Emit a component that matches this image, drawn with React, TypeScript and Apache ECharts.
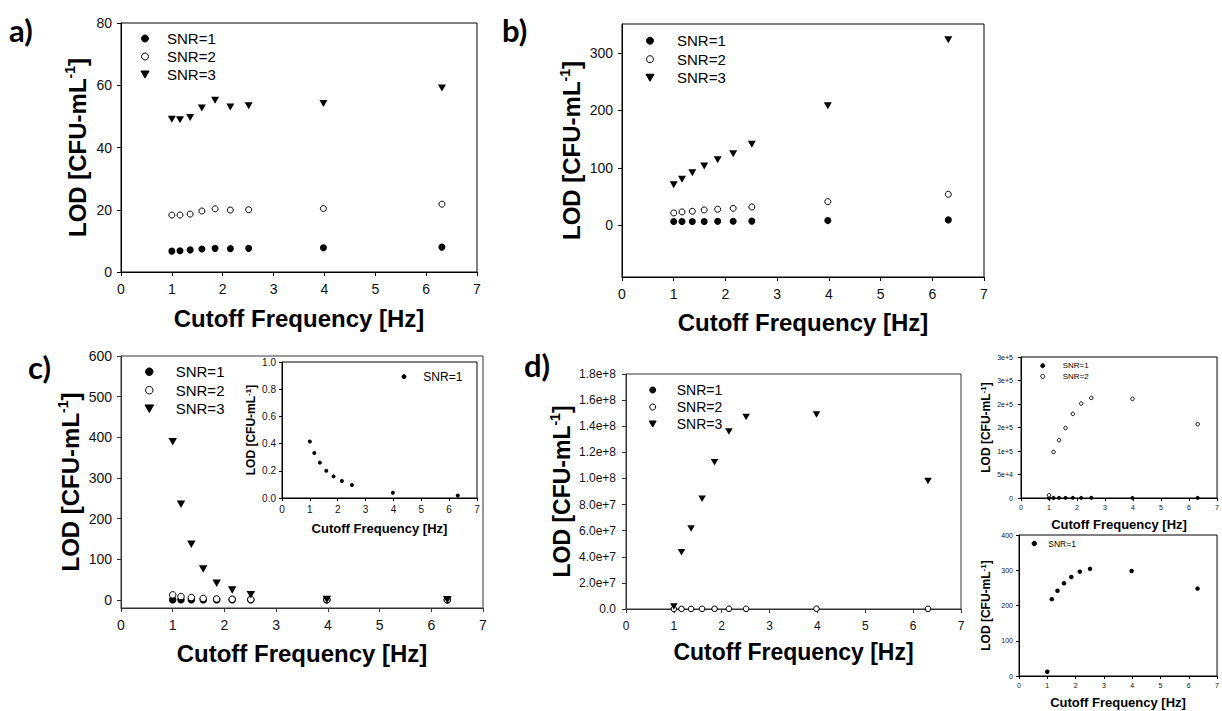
import React, { useEffect, useRef } from 'react';
import * as echarts from 'echarts';

// ---------------- data ----------------
const freq = [1.0, 1.16, 1.36, 1.59, 1.85, 2.15, 2.51, 3.98, 6.31];

const aSnr1 = [6.7, 6.8, 7.1, 7.4, 7.6, 7.5, 7.6, 7.8, 8.0];
const aSnr2 = [18.3, 18.3, 18.6, 19.6, 20.3, 19.9, 20.0, 20.4, 21.8];
const aSnr3 = [49.1, 48.9, 49.6, 52.7, 55.2, 53.0, 53.4, 54.1, 59.1];

const bSnr1 = [6.4, 6.4, 6.5, 6.6, 6.8, 7.0, 7.2, 8.1, 9.3];
const bSnr2 = [21.4, 23.2, 24.3, 26.6, 27.8, 29.5, 31.8, 41.1, 53.8];
const bSnr3 = [70.6, 79.9, 91.5, 103, 114, 124.5, 140.7, 207.9, 322.5];

const cSnr1 = [0.416, 0.331, 0.26, 0.2, 0.159, 0.125, 0.095, 0.039, 0.019];
const cSnr2 = [12.3, 8.2, 5.7, 3.6, 2.2, 1.6, 1.1, 0.5, 0.2];
const cSnr3 = [389, 235, 137, 76, 41, 24.5, 12.3, 1.2, 0.6];

const dSnr1 = [12, 218, 242, 263, 281, 296, 304, 298, 248];
const dSnr2 = [5800, 98000, 123000, 149000, 179000, 201000, 213000, 211000, 157000];
const dSnr3 = [2.0e6, 4.34e7, 6.16e7, 8.45e7, 1.124e8, 1.359e8, 1.471e8, 1.489e8, 9.81e7];

const snrNames = ['SNR=1', 'SNR=2', 'SNR=3'];
const xTitle = 'Cutoff Frequency [Hz]';
const yTitle = 'LOD [CFU-mL{sup|-1}]';
const bYTicks = [0, 100, 200, 300];
const cYTicks = [0, 100, 200, 300, 400, 500, 600];

// ---------------- styling helpers ----------------
const FONT = "'Liberation Sans', Arial, Helvetica, sans-serif";
const TRI_DOWN = 'path://M0,0L10,0L5,8.66Z';

type AxisOpt = {
  grid: number;
  labelSize: number;
  margin: number;
  tickLen: number;
  nameSize: number;
  nameGap: number;
  color?: string;
};

function xAxis(o: AxisOpt) {
  const c = o.color || '#000';
  return {
    type: 'value',
    gridIndex: o.grid,
    min: 0,
    max: 7,
    interval: 1,
    axisLine: { show: true, onZero: false, lineStyle: { color: c, width: 1 } },
    axisTick: { show: true, inside: false, length: o.tickLen, lineStyle: { color: c, width: 1 } },
    axisLabel: { fontSize: o.labelSize, margin: o.margin, color: '#111', fontFamily: FONT },
    splitLine: { show: false },
    name: xTitle,
    nameLocation: 'middle',
    nameGap: o.nameGap,
    nameTextStyle: { fontSize: o.nameSize, fontWeight: 'bold', fontFamily: FONT, color: '#000' },
  };
}

function yAxis(
  o: AxisOpt & {
    min: number;
    max: number;
    interval?: number;
    custom?: number[];
    formatter?: (v: number) => string;
    supSize: number;
    lineHeight: number;
  }
) {
  const c = o.color || '#000';
  const label: any = { fontSize: o.labelSize, margin: o.margin, color: '#111', fontFamily: FONT };
  const tick: any = { show: true, inside: false, length: o.tickLen, lineStyle: { color: c, width: 1 } };
  if (o.custom) {
    label.customValues = o.custom;
    tick.customValues = o.custom;
  }
  if (o.formatter) label.formatter = o.formatter;
  const ax: any = {
    type: 'value',
    gridIndex: o.grid,
    min: o.min,
    max: o.max,
    axisLine: { show: true, onZero: false, lineStyle: { color: c, width: 1 } },
    axisTick: tick,
    axisLabel: label,
    splitLine: { show: false },
    name: yTitle,
    nameLocation: 'middle',
    nameGap: o.nameGap,
    nameTextStyle: {
      fontSize: o.nameSize,
      fontWeight: 'bold',
      fontFamily: FONT,
      color: '#000',
      lineHeight: o.lineHeight,
      rich: {
        sup: {
          fontSize: o.supSize,
          fontWeight: 'bold',
          fontFamily: FONT,
          color: '#000',
          verticalAlign: 'top',
          lineHeight: o.supSize,
        },
      },
    },
  };
  if (o.interval !== undefined) ax.interval = o.interval;
  return ax;
}

type Kind = 'dot' | 'ring' | 'tri';
function scatter(name: string, idx: number, values: number[], kind: Kind, size: number, z = 2) {
  const base: any = {
    type: 'scatter',
    name,
    xAxisIndex: idx,
    yAxisIndex: idx,
    data: freq.map((f, i) => [f, values[i]]),
    silent: true,
    z,
  };
  if (kind === 'dot') {
    base.symbol = 'circle';
    base.symbolSize = size;
    base.itemStyle = { color: '#000', borderColor: '#000', borderWidth: 0, opacity: 1 };
  } else if (kind === 'ring') {
    base.symbol = 'circle';
    base.symbolSize = size - 1;
    base.itemStyle = { color: '#fff', borderColor: '#000', borderWidth: 1, opacity: 1 };
  } else {
    base.symbol = 'triangle';
    base.symbolRotate = 180;
    base.symbolSize = [size + 1, size];
    base.itemStyle = { color: '#000', borderColor: '#000', borderWidth: 0, opacity: 1 };
  }
  return base;
}

// legend placed by the centre x of its icons and the centre y of its first row
function legend(
  names: string[],
  iconCenterX: number,
  firstRowY: number,
  textStartX: number,
  itemHeight: number,
  itemGap: number,
  fontSize: number
) {
  const hasTri = names.indexOf('SNR=3') >= 0;
  const halfIcon = (hasTri ? (itemHeight * 1.155) / 2 : itemHeight / 2) + 0.5;
  const itemWidth = 2 * (textStartX - iconCenterX - 5);
  return {
    orient: 'vertical',
    left: iconCenterX - halfIcon,
    top: firstRowY - fontSize / 2,
    padding: 0,
    itemWidth,
    itemHeight,
    itemGap,
    selectedMode: false,
    symbolRotate: 0,
    symbolKeepAspect: true,
    data: names.map((n) => (n === 'SNR=3' ? { name: n, icon: TRI_DOWN } : { name: n })),
    itemStyle: { borderWidth: 1 },
    textStyle: { fontSize, fontFamily: FONT, color: '#000', lineHeight: fontSize },
  };
}

function panelLabel(text: string, x: number, y: number) {
  return {
    type: 'text',
    x,
    y,
    silent: true,
    style: {
      text,
      fontSize: 31,
      fontWeight: 'bold',
      fontFamily: "Lato, 'Open Sans', sans-serif",
      fill: '#000',
      verticalAlign: 'middle',
    },
  };
}

export default function App() {
  const ref = useRef<HTMLDivElement>(null);

  useEffect(() => {
    if (!ref.current) return;
    const chart = echarts.init(ref.current, undefined, { renderer: 'svg' });

    const frame = (left: number, top: number, width: number, height: number, color = '#000', bg = 'transparent') => ({
      left,
      top,
      width,
      height,
      show: true,
      borderColor: color,
      borderWidth: 1,
      backgroundColor: bg,
      containLabel: false,
    });

    const option: any = {
      animation: false,
      backgroundColor: '#fff',
      textStyle: { fontFamily: FONT },
      grid: [
        frame(121, 23, 356, 249), // a
        frame(622, 24, 362, 253), // b
        frame(121, 356, 362, 252, '#333'), // c
        frame(282, 362, 195, 136, '#000', '#fff'), // c inset
        frame(626, 374, 335, 235, '#333'), // d
        frame(1021, 357, 200, 141), // d top inset
        frame(1019, 535, 202, 141), // d bottom inset
      ],
      xAxis: [
        xAxis({ grid: 0, labelSize: 14, margin: 10, tickLen: 4, nameSize: 24, nameGap: 34 }),
        xAxis({ grid: 1, labelSize: 14, margin: 10, tickLen: 4, nameSize: 24, nameGap: 33 }),
        xAxis({ grid: 2, labelSize: 14, margin: 10, tickLen: 4, nameSize: 24, nameGap: 33, color: '#333' }),
        xAxis({ grid: 3, labelSize: 10, margin: 6, tickLen: 3, nameSize: 13, nameGap: 24 }),
        xAxis({ grid: 4, labelSize: 12, margin: 11, tickLen: 4, nameSize: 23, nameGap: 31, color: '#333' }),
        xAxis({ grid: 5, labelSize: 7, margin: 6, tickLen: 3, nameSize: 13, nameGap: 20 }),
        xAxis({ grid: 6, labelSize: 7, margin: 6, tickLen: 3, nameSize: 13, nameGap: 20 }),
      ],
      yAxis: [
        yAxis({ grid: 0, min: 0, max: 80, interval: 20, labelSize: 14, margin: 9, tickLen: 4, nameSize: 24, nameGap: 30, supSize: 14, lineHeight: 28 }),
        yAxis({ grid: 1, min: -90, max: 350, custom: bYTicks, labelSize: 14, margin: 9, tickLen: 4, nameSize: 24, nameGap: 36, supSize: 14, lineHeight: 28 }),
        yAxis({ grid: 2, min: -20, max: 600, custom: cYTicks, labelSize: 14, margin: 9, tickLen: 4, nameSize: 24, nameGap: 37, supSize: 14, lineHeight: 28, color: '#333' }),
        yAxis({ grid: 3, min: 0, max: 1, interval: 0.2, formatter: (v: number) => v.toFixed(1), labelSize: 10, margin: 6, tickLen: 3, nameSize: 12, nameGap: 24, supSize: 8, lineHeight: 14 }),
        yAxis({ grid: 4, min: 0, max: 1.8e8, interval: 2e7, formatter: (v: number) => (v === 0 ? '0.0' : v.toExponential(1)), labelSize: 12, margin: 10, tickLen: 4, nameSize: 23, nameGap: 51, supSize: 14, lineHeight: 27, color: '#333' }),
        yAxis({ grid: 5, min: 0, max: 3e5, interval: 5e4, formatter: (v: number) => (v === 0 ? '0' : v.toExponential(0)), labelSize: 7, margin: 8, tickLen: 3, nameSize: 12, nameGap: 27, supSize: 8, lineHeight: 14 }),
        yAxis({ grid: 6, min: 0, max: 400, interval: 100, labelSize: 7, margin: 6, tickLen: 3, nameSize: 12, nameGap: 26, supSize: 8, lineHeight: 14 }),
      ],
      legend: [
        legend(snrNames, 145, 38.5, 167, 7, 3, 15),
        legend(snrNames, 650, 40.7, 677, 7, 3.5, 15),
        legend(snrNames, 149.3, 371.7, 175.7, 7.5, 3.5, 15),
        legend(snrNames, 652.7, 390, 676.7, 6, 3, 14),
        legend(['SNR=1'], 404, 376.7, 423.3, 4, 3, 12),
        legend(['SNR=1', 'SNR=2'], 1042.7, 365.7, 1062.7, 4, 2.6, 8),
        legend(['SNR=1'], 1034.3, 543.3, 1048.3, 4.5, 3, 8.5),
      ],
      series: [
        scatter('SNR=1', 0, aSnr1, 'dot', 7),
        scatter('SNR=2', 0, aSnr2, 'ring', 7),
        scatter('SNR=3', 0, aSnr3, 'tri', 7),

        scatter('SNR=1', 1, bSnr1, 'dot', 7),
        scatter('SNR=2', 1, bSnr2, 'ring', 7),
        scatter('SNR=3', 1, bSnr3, 'tri', 7),

        scatter('SNR=1', 2, cSnr1, 'dot', 7.5),
        scatter('SNR=2', 2, cSnr2, 'ring', 7.5),
        scatter('SNR=3', 2, cSnr3, 'tri', 7.5),

        scatter('SNR=1', 3, cSnr1, 'dot', 4, 3),

        scatter('SNR=1', 4, dSnr1, 'dot', 6),
        scatter('SNR=2', 4, dSnr2, 'ring', 6.5),
        scatter('SNR=3', 4, dSnr3, 'tri', 6.5),

        scatter('SNR=1', 5, dSnr1, 'dot', 4),
        scatter('SNR=2', 5, dSnr2, 'ring', 4.5),

        scatter('SNR=1', 6, dSnr1, 'dot', 4.5),
      ],
      graphic: [
        panelLabel('a)', 9, 30),
        panelLabel('b)', 502, 30),
        panelLabel('c)', 28, 367),
        panelLabel('d)', 524, 365),
      ],
    };

    chart.setOption(option);
    return () => chart.dispose();
  }, []);

  return (
    <div
      ref={ref}
      style={{ position: 'absolute', left: 0, top: 0, width: 1222, height: 711, background: '#fff' }}
    />
  );
}
